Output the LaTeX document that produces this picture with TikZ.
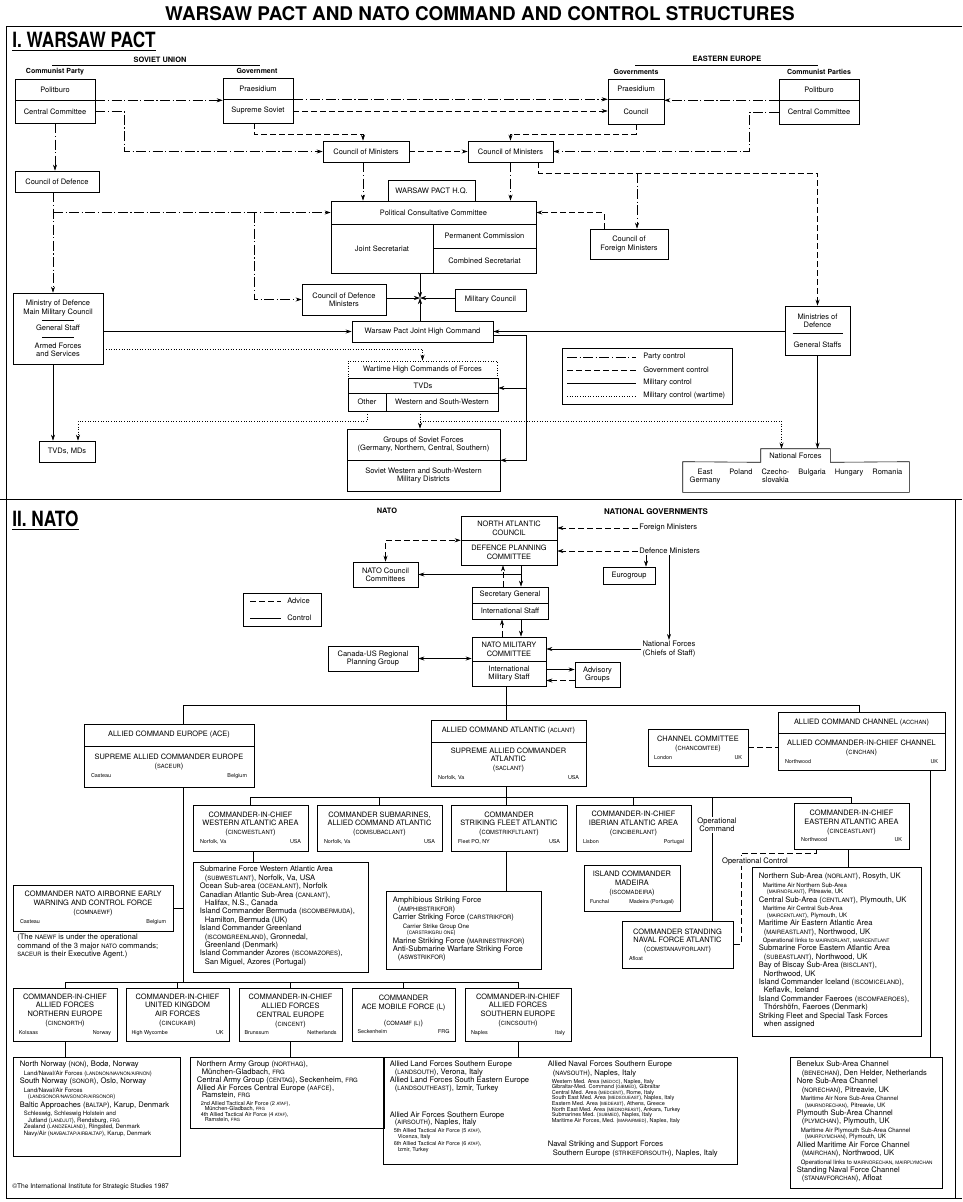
\documentclass[tikz,border=0pt]{standalone}
\usepackage{fontspec}
\usepackage{graphicx}
\setmainfont{TeX Gyre Heros}
\usetikzlibrary{arrows.meta,positioning}

\makeatletter
\newcommand\ab[1]{{\fontsize{\fpeval{0.78*\f@size}}{\f@baselineskip}\selectfont #1}}
\makeatother
\newcommand\wpf{\fontsize{7.5}{8.3}\selectfont}
\newcommand\capf{\fontsize{7.4}{8.8}\selectfont}
\newcommand\listf{\fontsize{7.6}{8.4}\selectfont}
\newcommand\smf{\fontsize{6}{6.4}\selectfont}
\newcommand\tnf{\fontsize{5.5}{6}\selectfont}
\newcommand\locf{\fontsize{5.4}{6}\selectfont}
\newcommand\loc[3]{\makebox[#1]{\locf #2\hfill #3}}
\newcommand\boxtext[3]{\parbox[t][#2][t]{#1}{\listf\raggedright\leftskip=3pt #3}}

\begin{document}
\begin{tikzpicture}[
        x=1pt, y=-1pt,
        >={Stealth[length=6pt,width=4pt]},
        line width=0.6pt,
        box/.style={draw, align=center, inner sep=1pt, font=\wpf},
        cbox/.style={draw, align=center, inner sep=1pt, font=\capf},
        listbox/.style={draw, anchor=north west, inner xsep=3.5pt, inner ysep=4pt},
        txt/.style={align=center, inner sep=1pt, font=\wpf},
        ntxt/.style={align=center, inner sep=1pt, font=\listf},
        lbl/.style={inner sep=1pt, font=\fontsize{7}{8}\selectfont\bfseries},
        capl/.style={inner sep=1pt, font=\fontsize{7.4}{8}\selectfont\bfseries},
        sz/.style 2 args={minimum width=#1pt, minimum height=#2pt},
        party/.style={dash pattern=on 10pt off 2.5pt on 1.2pt off 2.5pt},
        govt/.style={dash pattern=on 6pt off 3pt},
        wartime/.style={dash pattern=on 0.8pt off 1.8pt}
    ]
    \useasboundingbox (0,0) rectangle (962,1202);
    \draw[line width=0.8pt] (962,26) -- (6,26) -- (6,1198) -- (962,1198);
    \draw[line width=0.8pt] (0,499) -- (962,499);
    \draw[line width=0.8pt] (955,499) -- (955,1198);

    \node[font=\fontsize{18.9}{20}\selectfont\bfseries] (title) at (480,14) {WARSAW PACT AND NATO COMMAND AND CONTROL STRUCTURES};

    \node[anchor=south west, inner sep=0pt, font=\fontsize{21}{22}\selectfont\bfseries] (sec1) at (12,48) {\scalebox{0.82}[1]{I. WARSAW PACT}};
    \draw[line width=0.9pt] ([yshift=-2pt]sec1.south west) -- ([yshift=-2pt]sec1.south east);

    \node[capl] (su) at (160,60) {SOVIET UNION};
    \draw (52,65) -- (260,65);
    \node[capl] (ee) at (727,59) {EASTERN EUROPE};
    \draw (635,65) -- (818,65);
    \node[lbl] (cpty) at (55,72) {Communist Party};
    \node[lbl] (govlbl) at (257,71) {Government};
    \node[lbl] (govslbl) at (636,72) {Governments};
    \node[lbl] (cptslbl) at (819,72) {Communist Parties};

    \node[box, sz={80}{21}] (polit) at (55,89.5) {Politburo};
    \node[box, sz={80}{23}] (ccom) at (55,111.5) {Central Committee};
    \node[box, sz={70}{21}] (praes) at (258,88.5) {Praesidium};
    \node[box, sz={70}{24}] (ssov) at (258,111) {Supreme Soviet};
    \node[box, sz={56}{20}] (epraes) at (636,89) {Praesidium};
    \node[box, sz={56}{25}] (ecoun) at (636,111.5) {Council};
    \node[box, sz={80}{21}] (epolit) at (819,89.5) {Politburo};
    \node[box, sz={80}{24}] (eccom) at (819,112) {Central Committee};

    \node[box, sz={86}{21}] (com1) at (366,151.5) {Council of Ministers};
    \node[box, sz={85}{21}] (com2) at (510.5,151.5) {Council of Ministers};
    \node[box, sz={84}{21}] (cdef) at (57,181.5) {Council of Defence};
    \node[box, sz={87}{21}] (hq) at (431.5,190.5) {WARSAW PACT H.Q.};
    \node[box, sz={205}{23}] (pcc) at (433.5,212.5) {Political Consultative Committee};
    \node[box, sz={102}{49}] (jsec) at (382,248.5) {Joint Secretariat};
    \node[box, sz={103}{24}] (pcom) at (484.5,236) {Permanent Commission};
    \node[box, sz={103}{25}] (csec) at (484.5,260.5) {Combined Secretariat};
    \node[box, sz={78}{30}] (cfm) at (629,244) {Council of\\Foreign Ministers};
    \node[box, sz={84}{31}] (cdm) at (344,299.5) {Council of Defence\\Ministers};
    \node[box, sz={71}{22}] (milc) at (490.5,300) {Military Council};
    \node[box, sz={141}{21}] (wpjhc) at (422.5,331.5) {Warsaw Pact Joint High Command};
    \node[box, sz={90}{71}] (mod) at (58,328.5) {Ministry of Defence\\Main Military Council\\[-1.5pt]\rule{32pt}{0.4pt}\\[1.5pt]General Staff\\[-1.5pt]\rule{32pt}{0.4pt}\\[2.5pt]Armed Forces\\and Services};
    \node[box, sz={65}{49}] (emod) at (817.5,330.5) {Ministries of\\Defence\\[-2.5pt]\rule{50pt}{0.4pt}\\[5.5pt]General Staffs};
    \node[box, wartime, sz={149}{17}] (whc) at (422.5,369.5) {Wartime High Commands of Forces};
    \node[draw, sz={150}{33}] (tvd) at (423,394.5) {};
    \node[txt] (tvdt) at (423,386) {TVDs};
    \node[box, sz={38}{18}] (other) at (367,402) {Other};
    \node[box, sz={112}{18}] (wsw) at (442,402) {Western and South-Western};
    \node[box, sz={56}{21}] (tvdmd) at (67,451.5) {TVDs, MDs};
    \node[box, sz={153}{31}] (gsf) at (423.5,444.5) {Groups of Soviet Forces\\(Germany, Northern, Central, Southern)};
    \node[box, sz={153}{31}] (swmd) at (423.5,475.5) {Soviet Western and South-Western\\Military Districts};
    \node[txt, sz={69}{13}] (nft) at (795.5,455.5) {National Forces};
    \node[txt, sz={226}{30}] (nfbox) at (796,477) {\begin{tabular}{@{}c@{\hspace{9pt}}c@{\hspace{9pt}}c@{\hspace{9pt}}c@{\hspace{9pt}}c@{\hspace{9pt}}c@{}}East&Poland&Czecho-&Bulgaria&Hungary&Romania\\Germany&&slovakia&&&\end{tabular}};
    \draw (nfbox.north west) -- (nft.south west) |- (nft.north east) -- (nft.south east) -- (nfbox.north east) |- (nfbox.south west) -- cycle;

    \node[draw, sz={170}{56}] (wplegend) at (647,376) {};
    \foreach \yy/\st/\tx in {357/party/Party control, 370/govt/Government control, 383/solid/Military control, 396/wartime/Military control (wartime)}{
        \draw[\st] (567,\yy) -- (636,\yy);
        \node[txt, anchor=west] (lg\yy) at (642,\yy) {\tx};
    }

    \draw[party,->] (polit.south east) -- (polit.south east -| praes.west);
    \draw[party,->] (praes.south east) -- (praes.south east -| epraes.west);
    \draw[party,->] (epolit.south west) -- (epolit.south west -| epraes.east);
    \draw[party,->] (ccom.east) -- ++(29,0) |- (com1.west);
    \draw[party,->] (eccom.west) -- ++(-29,0) |- (com2.east);
    \draw[party,->] (ccom.south) -- (ccom.south |- cdef.north);
    \draw[party,->] ([xshift=-4pt]cdef.south) -- ([xshift=-4pt]cdef.south |- mod.north);
    \draw[party,->] ([xshift=-4pt]cdef.south |- pcc.west) -- (pcc.west);
    \coordinate (cdmj) at (254,212.5);
    \draw[party,->] (cdmj) |- (cdm.west);
    \draw[party,->] ([xshift=-3pt]com1.south) -- ([xshift=-3pt]com1.south |- pcc.north);
    \draw[party,->] (com2.south) -- (com2.south |- pcc.north);
    \coordinate (cfmj) at (637,173);
    \draw[party,->] (cfmj) -- (cfmj |- cfm.north);

    \draw[govt,->] (ssov.east) -- (ssov.east -| ecoun.west);
    \draw[govt,->] ([xshift=-4pt]ssov.south) -- ++(0,11) -| ([xshift=-3pt]com1.north);
    \draw[govt,->] (ecoun.south) -- ++(0,10) -| (com2.north);
    \draw[govt,->] (com1.east) -- (com2.west);
    \draw[govt,->] ([xshift=28pt]com2.south) -- ++(0,11) -| (emod.north);
    \draw[govt,->] ([xshift=-25pt]cfm.north) |- (pcc.east);

    \coordinate (hub) at (420,298);
    \draw[->] (hub |- jsec.south) -- (hub);
    \draw[->] (cdm.east |- hub) -- (hub);
    \draw[->] (milc.west |- hub) -- (hub);
    \draw[->] (hub |- wpjhc.north) -- (hub);
    \draw[->] (mod.east |- wpjhc.west) -- (wpjhc.west);
    \draw[->] (emod.west |- wpjhc.east) -- (wpjhc.east);
    \draw[->] ([yshift=-4pt]wpjhc.east) -- ++(33,0) |- (gsf.south east);
    \coordinate (tvdj) at (526,388);
    \draw[->] (tvdj) -- (tvdj -| tvd.east);
    \draw[->] ([xshift=-5pt]mod.south) -- ([xshift=-5pt]mod.south |- tvdmd.north);
    \draw[->] (emod.south) -- (emod.south |- nft.north);

    \draw[wartime,->] ([yshift=-20.5pt]mod.east) -| (whc.north);
    \draw[wartime,->] (other.south) -- ++(0,10) -| ([xshift=11pt]tvdmd.north);
    \coordinate (gsfj) at (420,421);
    \draw[wartime,->] (gsfj |- wsw.south) -- (gsfj |- gsf.north);
    \draw[wartime,->] (gsfj) -| ([xshift=-14pt]nft.north);

    \node[anchor=south west, inner sep=0pt, font=\fontsize{21}{22}\selectfont\bfseries] (sec2) at (12,527) {\scalebox{0.82}[1]{II. NATO}};
    \draw[line width=0.9pt] ([yshift=-2pt]sec2.south west) -- ([yshift=-2pt]sec2.south east);
    \node[capl] (natolbl) at (387,511) {NATO};
    \node[capl, font=\fontsize{7.9}{8}\selectfont\bfseries] (natgov) at (656,512) {NATIONAL GOVERNMENTS};

    \node[cbox, sz={96}{24}] (nac) at (509,528) {NORTH ATLANTIC\\COUNCIL};
    \node[cbox, sz={96}{25}] (dpc) at (509,552.5) {DEFENCE PLANNING\\COMMITTEE};
    \node[ntxt, anchor=west] (fmin) at (638,528) {Foreign Ministers};
    \node[ntxt, anchor=west] (dmin) at (638,551) {Defence Ministers};
    \node[box, sz={52}{17}] (eurogroup) at (629,575.5) {Eurogroup};
    \node[ntxt] (natf) at (669,649) {National Forces\\(Chiefs of Staff)};
    \node[box, sz={65}{25}] (ncc) at (385.5,574.5) {NATO Council\\Committees};
    \node[box, sz={76}{16}] (sg) at (510,595) {Secretary General};
    \node[box, sz={76}{16}] (istaff) at (510,611) {International Staff};
    \node[cbox, sz={74}{24}] (nmc) at (509,649) {NATO MILITARY\\COMMITTEE};
    \node[box, sz={74}{25}] (ims) at (509,673.5) {International\\Military Staff};
    \node[box, sz={45}{25}] (advg) at (597.5,674.5) {Advisory\\Groups};
    \node[box, sz={90}{25}] (cusrpg) at (373,658.5) {Canada-US Regional\\Planning Group};

    \node[draw, sz={78}{33}] (natoleg) at (282,609.5) {};
    \draw[govt] (250,601) -- (281,601);
    \node[txt, anchor=west] (lgadv) at (286,601) {Advice};
    \draw (250,618) -- (281,618);
    \node[txt, anchor=west] (lgctl) at (286,618) {Control};

    \draw[govt,->] (fmin.west) -- (fmin.west -| nac.east);
    \draw[govt,->] (dmin.west) -- (dmin.west -| dpc.east);
    \draw[->] ([xshift=8pt]dmin.south west) -- ([xshift=8pt]dmin.south west |- eurogroup.north);
    \draw[->] (natf.north |- dmin.south) -- (natf.north);
    \draw[->] (natf.west) -- (natf.west -| nmc.east);
    \draw[govt,<->] (ncc.north) |- (nac.south west);
    \draw[->] ([xshift=12pt]dpc.south) -- ([xshift=12pt]dpc.south |- sg.north);
    \draw[->] ([xshift=12pt]dpc.south |- ncc.east) -- (ncc.east);
    \draw[govt,->] ([xshift=-7pt]sg.north) -- ([xshift=-7pt]sg.north |- dpc.south);
    \draw[->] ([xshift=11pt]istaff.south) -- ([xshift=11pt]istaff.south |- nmc.north);
    \draw[govt,->] ([xshift=-7pt]nmc.north) -- ([xshift=-7pt]nmc.north |- istaff.south);
    \draw[->] ([yshift=4pt]ims.east) -- ([yshift=4pt]ims.east -| advg.west);
    \draw[govt,->] ([yshift=-6pt]advg.west) -- ([yshift=-6pt]advg.west -| ims.east);
    \draw[<->] (cusrpg.east) -- (cusrpg.east -| nmc.west);

    \node[cbox, sz={170}{22}] (ace) at (169,735) {ALLIED COMMAND EUROPE (ACE)};
    \node[cbox, sz={170}{41}] (saceur) at (169,766.5) {SUPREME ALLIED COMMANDER EUROPE\\(\ab{SACEUR})\\\loc{156pt}{Casteau}{Belgium}};
    \node[cbox, sz={155}{22}] (aclant) at (508.5,731) {ALLIED COMMAND ATLANTIC (\ab{ACLANT})};
    \node[cbox, sz={155}{44}] (saclant) at (508.5,764) {SUPREME ALLIED COMMANDER\\ATLANTIC\\(\ab{SACLANT})\\\loc{141pt}{Norfolk, Va}{USA}};
    \node[cbox, sz={100}{37}] (chancom) at (698,747.5) {CHANNEL COMMITTEE\\(\ab{CHANCOMTEE})\\\loc{88pt}{London}{UK}};
    \node[cbox, sz={167}{21}] (acchan) at (861.5,722.5) {ALLIED COMMAND CHANNEL (\ab{ACCHAN})};
    \node[cbox, sz={167}{37}] (cinchan) at (861.5,751.5) {ALLIED COMMANDER-IN-CHIEF CHANNEL\\(\ab{CINCHAN})\\\loc{153pt}{Northwood}{UK}};

    \node[cbox, sz={115}{46}] (cwl) at (250.5,828) {COMMANDER-IN-CHIEF\\WESTERN ATLANTIC AREA\\(\ab{CINCWESTLANT})\\\loc{101pt}{Norfolk, Va}{USA}};
    \node[cbox, sz={125}{46}] (csub) at (379.5,828) {COMMANDER SUBMARINES,\\ALLIED COMMAND ATLANTIC\\(\ab{COMSUBACLANT})\\\loc{111pt}{Norfolk, Va}{USA}};
    \node[cbox, sz={116}{46}] (cstrk) at (509,828) {COMMANDER\\STRIKING FLEET ATLANTIC\\(\ab{COMSTRIKFLTLANT})\\\loc{102pt}{Fleet PO, NY}{USA}};
    \node[cbox, sz={115}{46}] (cib) at (633.5,828) {COMMANDER-IN-CHIEF\\IBERIAN ATLANTIC AREA\\(\ab{CINCIBERLANT})\\\loc{101pt}{Lisbon}{Portugal}};
    \node[cbox, sz={115}{46}] (cel) at (851.5,826) {COMMANDER-IN-CHIEF\\EASTERN ATLANTIC AREA\\(\ab{CINCEASTLANT})\\\loc{101pt}{Northwood}{UK}};
    \node[cbox, sz={96}{46}] (mad) at (632,888) {ISLAND COMMANDER\\MADEIRA\\(\ab{ISCOMADEIRA})\\\loc{84pt}{Funchal}{Madeira (Portugal)}};
    \node[cbox, sz={111}{47}] (csn) at (677.5,944.5) {COMMANDER STANDING\\NAVAL FORCE ATLANTIC\\(\ab{COMSTANAVFORLANT})\\\loc{97pt}{Afloat}{}};
    \node[cbox, sz={160}{46}] (comnaewf) at (93,908) {COMMANDER NATO AIRBORNE EARLY\\WARNING AND CONTROL FORCE\\(\ab{COMNAEWF})\\\loc{146pt}{Casteau}{Belgium}};
    \node[ntxt, anchor=north west, align=left] (naewfnote) at (16,933) {(The \ab{NAEWF} is under the operational\\command of the 3 major \ab{NATO} commands;\\\ab{SACEUR} is their Executive Agent.)};

    \node[listbox] (cwlsub) at (193,862) {\boxtext{168pt}{102pt}{Submarine Force Western Atlantic Area\\
        \hspace*{5pt}(\ab{SUBWESTLANT}), Norfolk, Va, USA\\
        Ocean Sub-area (\ab{OCEANLANT}), Norfolk\\
        Canadian Atlantic Sub-Area (\ab{CANLANT}),\\
        \hspace*{5pt}Halifax, N.S., Canada\\
        Island Commander Bermuda (\ab{ISCOMBERMUDA}),\\
        \hspace*{5pt}Hamilton, Bermuda (UK)\\
        Island Commander Greenland\\
        \hspace*{5pt}(\ab{ISCOMGREENLAND}), Gronnedal,\\
        \hspace*{5pt}Greenland (Denmark)\\
        Island Commander Azores (\ab{ISCOMAZORES}),\\
        \hspace*{5pt}San Miguel, Azores (Portugal)}};
    \node[listbox] (strksub) at (386,891) {\boxtext{148pt}{70pt}{\vspace*{2pt}Amphibious Striking Force\\
        \hspace*{5pt}(\ab{AMPHIBSTRIKFOR})\\
        Carrier Striking Force (\ab{CARSTRIKFOR})\\
        {\smf\hspace*{10pt}Carrier Strike Group One}\\[-1.8pt]
        {\smf\hspace*{14pt}(\ab{CARSTRIKGRU ONE})}\\
        Marine Striking Force (\ab{MARINESTRIKFOR})\\
        Anti-Submarine Warfare Striking Force\\
        \hspace*{5pt}(\ab{ASWSTRIKFOR})}};
    \node[listbox] (celsub) at (752,867) {\boxtext{162pt}{161pt}{\vspace*{2pt}Northern Sub-Area (\ab{NORLANT}), Rosyth, UK\\
        {\smf\hspace*{4pt}Maritime Air Northern Sub-Area}\\[-1.8pt]
        {\smf\hspace*{8pt}(\ab{MAIRNORLANT}), Pitreavie, UK}\\
        Central Sub-Area (\ab{CENTLANT}), Plymouth, UK\\
        {\smf\hspace*{4pt}Maritime Air Central Sub-Area}\\[-1.8pt]
        {\smf\hspace*{8pt}(\ab{MAIRCENTLANT}), Plymouth, UK}\\
        Maritime Air Eastern Atlantic Area\\
        \hspace*{5pt}(\ab{MAIREASTLANT}), Northwood, UK\\
        {\smf\hspace*{4pt}Operational links to \ab{MAIRNORLANT}, \ab{MAIRCENTLANT}}\\
        Submarine Force Eastern Atlantic Area\\
        \hspace*{5pt}(\ab{SUBEASTLANT}), Northwood, UK\\
        Bay of Biscay Sub-Area (\ab{BISCLANT}),\\
        \hspace*{5pt}Northwood, UK\\
        Island Commander Iceland (\ab{ISCOMICELAND}),\\
        \hspace*{5pt}Keflavik, Iceland\\
        Island Commander Faeroes (\ab{ISCOMFAEROES}),\\
        \hspace*{5pt}Thórshöfn, Faeroes (Denmark)\\
        Striking Fleet and Special Task Forces\\
        \hspace*{5pt}when assigned}};
    \node[listbox] (benesub) at (790,1057) {\boxtext{145pt}{123pt}{Benelux Sub-Area Channel\\
        \hspace*{5pt}(\ab{BENECHAN}), Den Helder, Netherlands\\
        Nore Sub-Area Channel\\
        \hspace*{5pt}(\ab{NORECHAN}), Pitreavie, UK\\
        {\smf\hspace*{4pt}Maritime Air Nore Sub-Area Channel}\\[-1.8pt]
        {\smf\hspace*{8pt}(\ab{MAIRNORECHAN}), Pitreavie, UK}\\
        Plymouth Sub-Area Channel\\
        \hspace*{5pt}(\ab{PLYMCHAN}), Plymouth, UK\\
        {\smf\hspace*{4pt}Maritime Air Plymouth Sub-Area Channel}\\[-1.8pt]
        {\smf\hspace*{8pt}(\ab{MAIRPLYMCHAN}), Plymouth, UK}\\
        Allied Maritime Air Force Channel\\
        \hspace*{5pt}(\ab{MAIRCHAN}), Northwood, UK\\
        {\smf\hspace*{4pt}Operational links to \ab{MAIRNORECHAN}, \ab{MAIRPLYMCHAN}}\\
        Standing Naval Force Channel\\
        \hspace*{5pt}(\ab{STANAVFORCHAN}), Afloat}};

    \node[cbox, sz={104}{53}] (cincnorth) at (65,1014.5) {COMMANDER-IN-CHIEF\\ALLIED FORCES\\NORTHERN EUROPE\\(\ab{CINCNORTH})\\\loc{92pt}{Kolsaas}{Norway}};
    \node[cbox, sz={103}{53}] (cincukair) at (177.5,1014.5) {COMMANDER-IN-CHIEF\\UNITED KINGDOM\\AIR FORCES\\(\ab{CINCUKAIR})\\\loc{92pt}{High Wycombe}{UK}};
    \node[cbox, sz={103}{53}] (cincent) at (290.5,1014.5) {COMMANDER-IN-CHIEF\\ALLIED FORCES\\CENTRAL EUROPE\\(\ab{CINCENT})\\\loc{92pt}{Brunssum}{Netherlands}};
    \node[cbox, sz={103}{53}] (comamf) at (403.5,1014.5) {COMMANDER\\ACE MOBILE FORCE (L)\\[7pt](\ab{COMAMF (L)})\\\loc{92pt}{Seckenheim}{FRG}};
    \node[cbox, sz={106}{53}] (cincsouth) at (518,1014.5) {COMMANDER-IN-CHIEF\\ALLIED FORCES\\SOUTHERN EUROPE\\(\ab{CINCSOUTH})\\\loc{94pt}{Naples}{Italy}};

    \node[listbox] (northsub) at (13,1057) {\boxtext{160pt}{91pt}{North Norway (\ab{NON}), Bodø, Norway\\
        {\smf\hspace*{4pt}Land/Naval/Air Forces (\ab{LANDNON/NAVNON/AIRNON})}\\
        South Norway (\ab{SONOR}), Oslo, Norway\\
        {\smf\hspace*{4pt}Land/Naval/Air Forces}\\[-1.8pt]
        {\smf\hspace*{8pt}(\ab{LANDSONOR/NAVSONOR/AIRSONOR})}\\
        Baltic Approaches (\ab{BALTAP}), Karup, Denmark\\
        {\smf\hspace*{4pt}Schleswig, Schleswig Holstein and}\\[-1.8pt]
        {\smf\hspace*{8pt}Jutland (\ab{LANDJUT}), Rendsburg, \ab{FRG}}\\[-1.8pt]
        {\smf\hspace*{4pt}Zealand (\ab{LANDZEALAND}), Ringsted, Denmark}\\[-1.8pt]
        {\smf\hspace*{4pt}Navy/Air (\ab{NAVBALTAP/AIRBALTAP}), Karup, Denmark}}};
    \node[listbox] (centsub) at (190,1057) {\boxtext{187pt}{63pt}{\fontsize{7.6}{7.7}\selectfont Northern Army Group (\ab{NORTHAG}),\\
        \hspace*{5pt}München-Gladbach, \ab{FRG}\\
        Central Army Group (\ab{CENTAG}), Seckenheim, \ab{FRG}\\
        Allied Air Forces Central Europe (\ab{AAFCE}),\\
        \hspace*{5pt}Ramstein, \ab{FRG}\\
        {\tnf\hspace*{4pt}2nd Allied Tactical Air Force (2 \ab{ATAF}),}\\[-2.2pt]
        {\tnf\hspace*{8pt}München-Gladbach, \ab{FRG}}\\[-2.2pt]
        {\tnf\hspace*{4pt}4th Allied Tactical Air Force (4 \ab{ATAF}),}\\[-2.2pt]
        {\tnf\hspace*{8pt}Ramstein, \ab{FRG}}}};
    \node[listbox] (southsub) at (383,1057) {\boxtext{158pt}{99pt}{\fontsize{7.6}{7.8}\selectfont Allied Land Forces Southern Europe\\
        \hspace*{5pt}(\ab{LANDSOUTH}), Verona, Italy\\
        Allied Land Forces South Eastern Europe\\
        \hspace*{5pt}(\ab{LANDSOUTHEAST}), Izmir, Turkey\\[19pt]
        Allied Air Forces Southern Europe\\
        \hspace*{5pt}(\ab{AIRSOUTH}), Naples, Italy\\
        {\tnf\hspace*{4pt}5th Allied Tactical Air Force (5 \ab{ATAF}),}\\[-2.2pt]
        {\tnf\hspace*{8pt}Vicenza, Italy}\\[-0.5pt]
        {\tnf\hspace*{4pt}6th Allied Tactical Air Force (6 \ab{ATAF}),}\\[-2.2pt]
        {\tnf\hspace*{8pt}Izmir, Turkey}}%
        \boxtext{189pt}{99pt}{Allied Naval Forces Southern Europe\\
        \hspace*{5pt}(\ab{NAVSOUTH}), Naples, Italy\\[-0.7pt]
        {\tnf\hspace*{4pt}Western Med. Area (\ab{MEDOC}), Naples, Italy}\\[-2.8pt]
        {\tnf\hspace*{4pt}Gibraltar-Med. Command (\ab{GIBMED}), Gibraltar}\\[-2.8pt]
        {\tnf\hspace*{4pt}Central Med. Area (\ab{MEDCENT}), Rome, Italy}\\[-2.8pt]
        {\tnf\hspace*{4pt}South East Med. Area (\ab{MEDSOUEAST}), Naples, Italy}\\[-2.8pt]
        {\tnf\hspace*{4pt}Eastern Med. Area (\ab{MEDEAST}), Athens, Greece}\\[-2.8pt]
        {\tnf\hspace*{4pt}North East Med. Area (\ab{MEDNOREAST}), Ankara, Turkey}\\[-2.8pt]
        {\tnf\hspace*{4pt}Submarines Med. (\ab{SUBMED}), Naples, Italy}\\[-2.8pt]
        {\tnf\hspace*{4pt}Maritime Air Forces, Med. (\ab{MARAIRMED}), Naples, Italy}\\[16pt]
        Naval Striking and Support Forces\\
        \hspace*{5pt}Southern Europe (\ab{STRIKEFORSOUTH}), Naples, Italy}};

    \node[anchor=west, inner sep=0pt, font=\fontsize{6.6}{8}\selectfont] (copyr) at (12,1187) {\textcopyright The International Institute for Strategic Studies 1987};

    \coordinate (topbus) at (183,705);
    \coordinate (topbuse) at (859,705);
    \draw ([xshift=-3pt]ims.south) -- ([xshift=-3pt]ims.south |- aclant.north);
    \draw (topbus |- ace.north) -- (topbus) -- (topbuse) -- (topbuse |- acchan.north);
    \draw[govt] (chancom.east) -- (chancom.east -| cinchan.west);

    \coordinate (lowbus) at (67,982);
    \draw (topbus |- saceur.south) -- (topbus |- lowbus);
    \draw (topbus |- comnaewf.east) -- (comnaewf.east);
    \foreach \n in {cincnorth,cincukair,cincent,comamf,cincsouth}
        \draw (\n.north) -- (\n.north |- lowbus);
    \draw (cincnorth.north |- lowbus) -- (cincsouth.north |- lowbus);

    \coordinate (atlbus) at (253,797);
    \draw ([xshift=-2.5pt]saclant.south) -- ([xshift=-2.5pt]saclant.south |- cstrk.north);
    \draw (cwl.north |- atlbus) -- (cel.north |- atlbus);
    \foreach \n in {cwl,csub,cib,cel}
        \draw (\n.north |- atlbus) -- (\n.north);
    \coordinate (opcj) at (712,797);
    \draw (opcj) -- (opcj |- csn.north);
    \node[ntxt, fill=white] (opcmd) at (717,825) {Operational\\Command};

    \coordinate (opctlj) at (741,853);
    \draw[govt] ([xshift=-35.5pt]cel.south) |- (opctlj) |- (csn.east);
    \node[ntxt, fill=white] (opctl) at (755,861) {Operational Control};

    \draw ([xshift=2.5pt]cwl.south) -- ([xshift=2.5pt]cwl.south |- cwlsub.north);
    \draw ([xshift=-3pt]cstrk.south) -- ([xshift=-3pt]cstrk.south |- strksub.north);
    \draw ([xshift=-3.5pt]cel.south) -- ([xshift=-3.5pt]cel.south |- celsub.north);
    \draw ([xshift=68.5pt]cinchan.south) -- ([xshift=68.5pt]cinchan.south |- benesub.north);
    \draw (cincnorth.south) -- (cincnorth.south |- northsub.north);
    \draw (cincent.south) -- (cincent.south |- centsub.north);
    \draw (cincsouth.south) -- (cincsouth.south |- southsub.north);
\end{tikzpicture}
\end{document}
